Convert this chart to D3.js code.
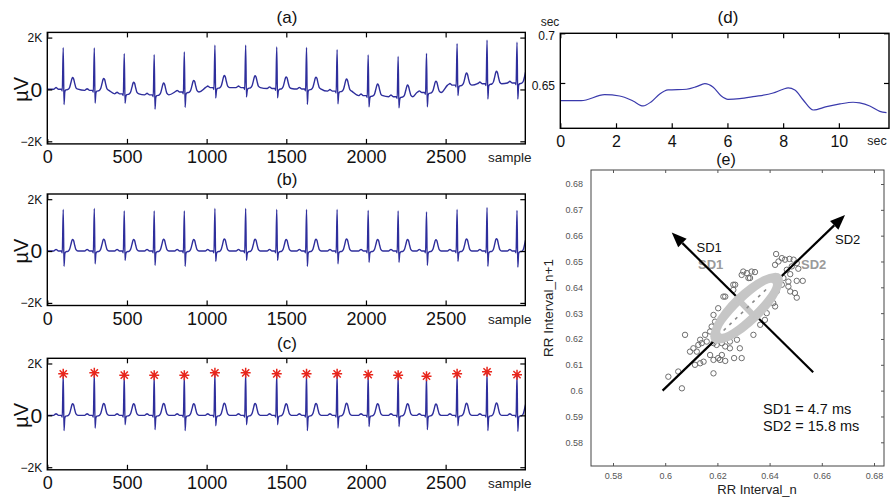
<!DOCTYPE html>
<html><head><meta charset="utf-8">
<script src="https://cdn.jsdelivr.net/npm/d3@7"></script>
<style>
body{margin:0;background:#fff}
svg{display:block}
text{font-family:"Liberation Sans",Arial,Helvetica,sans-serif}
</style>
</head><body>
<svg id="c" width="891" height="498"></svg>
<script>
// ---------------- DATA ----------------
// ECG (panels a-c): R-peak sample positions and per-beat amplitudes (µV)
const rPeakSamples = [100, 295, 483, 671, 860, 1052, 1245, 1440, 1627, 1819, 2014, 2202, 2380, 2572, 2760, 2948];
const rAmplitude   = [1600, 1640, 1550, 1550, 1550, 1640, 1640, 1600, 1600, 1600, 1570, 1550, 1510, 1600, 1680, 1570];
const sDepth       = [590, 490, 360, 550, 590, 400, 360, 360, 590, 490, 430, 430, 550, 400, 590, 620];
const tAmplitude   = [450, 460, 450, 460, 450, 470, 460, 450, 460, 470, 450, 450, 440, 470, 480, 480];
// baseline wander of the raw signal (panel a), one value per beat (µV)
const baselineRaw  = [10, -35, -170, -210, -100, 70, 70, 35, 15, -65, -240, -280, -120, 165, 220, 250];
// single-beat shape: [offset from R (samples), kind, value]
// kind 'uV' = absolute µV, 'R'/'S'/'T' = fraction of that beat's wave amplitude
const waveTemplate = [
  [-60,'uV',0],[-52,'uV',35],[-45,'uV',65],[-38,'uV',35],[-30,'uV',0],[-12,'uV',0],[-6,'uV',-70],
  [0,'R',1],[5,'S',1],[10,'uV',-100],[16,'uV',-30],[30,'uV',-10],
  [40,'T',0.15],[48,'T',0.55],[55,'T',0.92],[60,'T',1],[65,'T',0.9],[72,'T',0.5],[80,'T',0.12],[92,'uV',0]
];
const ecgXTicks = [0, 500, 1000, 1500, 2000, 2500];
const ecgYTicks = [-2000, 0, 2000];
const ecgYLabels = ['\u22122K', '0', '2K'];
const panelTitles = ['(a)', '(b)', '(c)'];

// Panel d: HRV / RR tachogram (sec vs sec)
const hrvTime = [0, 0.75, 1.59, 2.13, 2.61, 2.97, 3.27, 3.57, 3.87, 4.53, 4.89, 5.19, 5.49, 5.78, 6.02, 6.44, 6.92, 7.64, 8.0, 8.18, 8.42, 8.72, 9.08, 9.56, 10.04, 10.51, 10.75, 11.11, 11.47, 11.71];
const hrvRR   = [0.6322, 0.6322, 0.6382, 0.6369, 0.6319, 0.6269, 0.6312, 0.6389, 0.6430, 0.6437, 0.6463, 0.6493, 0.6457, 0.6369, 0.6336, 0.6342, 0.6362, 0.6399, 0.6437, 0.6450, 0.6430, 0.6329, 0.6228, 0.6262, 0.6289, 0.6306, 0.6299, 0.6269, 0.6215, 0.6201];
const hrvXTicks = [0, 2, 4, 6, 8, 10];
const hrvYTicks = [0.65, 0.7];

// Panel e: Poincaré plot
const rrN  = [0.6425,0.6447,0.6434,0.6421,0.6459,0.6476,0.6492,0.6504,0.6485,0.6466,0.6510,0.6479,0.6453,0.6472,0.6504,0.6527,0.6447,0.6472,0.6479,0.6497,0.6504,0.6427,0.6414,0.6421,0.6389,0.6382,0.6364,0.6338,0.6313,0.6344,0.6293,0.6325,0.6268,0.6261,0.6223,0.6203,0.6185,0.6191,0.6178,0.6172,0.6153,0.6134,0.6127,0.6108,0.6095,0.6121,0.6140,0.6159,0.6185,0.6197,0.6217,0.6230,0.6248,0.6275,0.6286,0.6217,0.6172,0.6185,0.6203,0.6230,0.6147,0.6114,0.6185,0.6076,0.6050,0.6012,0.6064,0.6248,0.6275,0.6306,0.6331,0.6351,0.6325,0.6299,0.6281,0.6134,0.6210,0.6293,0.6264,0.6248,0.6230,0.6261,0.6299,0.6331,0.6319];
const rrN1 = [0.6529,0.6513,0.6500,0.6487,0.6507,0.6510,0.6507,0.6494,0.6481,0.6468,0.6472,0.6451,0.6436,0.6422,0.6425,0.6425,0.6410,0.6403,0.6384,0.6378,0.6360,0.6384,0.6339,0.6326,0.6300,0.6274,0.6255,0.6216,0.6455,0.6459,0.6448,0.6436,0.6410,0.6390,0.6364,0.6319,0.6293,0.6267,0.6248,0.6229,0.6216,0.6197,0.6177,0.6164,0.6151,0.6151,0.6184,0.6190,0.6184,0.6177,0.6184,0.6171,0.6190,0.6197,0.6164,0.6138,0.6138,0.6119,0.6126,0.6115,0.6112,0.6100,0.6067,0.6216,0.6074,0.6054,0.6009,0.6267,0.6255,0.6261,0.6274,0.6306,0.6326,0.6306,0.6287,0.6106,0.6119,0.6126,0.6126,0.6164,0.6364,0.6410,0.6461,0.6461,0.6436];
const poincareXTicks = [0.58, 0.60, 0.62, 0.64, 0.66, 0.68];
const poincareXLabels = ['0.58','0.6','0.62','0.64','0.66','0.68'];
const poincareYTicks = [0.58,0.59,0.60,0.61,0.62,0.63,0.64,0.65,0.66,0.67,0.68];
const poincareYLabels = ['0.58','0.59','0.6','0.61','0.62','0.63','0.64','0.65','0.66','0.67','0.68'];
// SD axes: [x0, y0, x1(head), y1(head)]
const sd1Axis = [0.6567, 0.6071, 0.6025, 0.6612];
const sd2Axis = [0.5990, 0.6000, 0.6689, 0.6680];
const ellipseCenter = [0.6312, 0.6319];
const sdValues = ['SD1 = 4.7 ms', 'SD2 = 15.8 ms'];

// ---------------- DRAW ----------------
const svg = d3.select('#c');
const defs = svg.append('defs');
const ECG_COLOR = '#2e2e9c';

const ecgX0 = 47.3, ecgX1 = 525.3, ecgH = 111.5;
const panelTops = [32.4, 194, 358.3];
const x = d3.scaleLinear().domain([0, 3000]).range([ecgX0, ecgX1]);

function buildTrace(withBaseline) {
  const pts = [[0, withBaseline ? baselineRaw[0] : 0]];
  rPeakSamples.forEach((r, i) => {
    const b = withBaseline ? baselineRaw[i] : 0;
    waveTemplate.forEach(([off, kind, v]) => {
      let val = v;
      if (kind === 'R') val = v * rAmplitude[i];
      else if (kind === 'S') val = -v * sDepth[i];
      else if (kind === 'T') val = v * tAmplitude[i];
      pts.push([r + off, b + val]);
    });
  });
  return pts;
}

panelTops.forEach((top, pi) => {
  const y = d3.scaleLinear().domain([-2100, 2200]).range([top + ecgH, top]);
  const g = svg.append('g');
  const clipId = 'clip' + pi;
  defs.append('clipPath').attr('id', clipId).append('rect')
    .attr('x', ecgX0).attr('y', top).attr('width', ecgX1 - ecgX0).attr('height', ecgH);

  const trace = buildTrace(pi === 0);
  const line = d3.line().x(d => x(d[0])).y(d => y(d[1])).curve(d3.curveMonotoneX);
  g.append('path').attr('d', line(trace)).attr('fill', 'none')
    .attr('stroke', ECG_COLOR).attr('stroke-width', 1.4).attr('stroke-linejoin', 'round')
    .attr('clip-path', `url(#${clipId})`);

  if (pi === 2) {
    const r = 5, a = r * 0.72;
    const star = `M0,${-r}L0,${r}M${-r},0L${r},0M${-a},${-a}L${a},${a}M${-a},${a}L${a},${-a}`;
    g.selectAll('path.star').data(rPeakSamples).join('path').attr('class', 'star')
      .attr('d', star)
      .attr('transform', (d, i) => `translate(${x(d)},${y(rAmplitude[i])})`)
      .attr('stroke', '#e8261c').attr('stroke-width', 1.5).attr('fill', 'none');
  }

  // frame
  g.append('rect').attr('x', ecgX0).attr('y', top).attr('width', ecgX1 - ecgX0).attr('height', ecgH)
    .attr('fill', 'none').attr('stroke', '#000').attr('stroke-width', 1.4);

  // axes (inward ticks)
  const ax = g.append('g').attr('transform', `translate(0,${top + ecgH})`)
    .call(d3.axisBottom(x).tickValues(ecgXTicks).tickSize(-5).tickPadding(6.5).tickFormat(d3.format('d')));
  ax.select('.domain').remove();
  ax.selectAll('line').attr('stroke', '#000').attr('stroke-width', 1.2);
  ax.selectAll('text').attr('font-size', 18).attr('fill', '#111')
    .style('font-family', '"Liberation Sans",Arial,sans-serif');

  const axT = g.append('g').attr('transform', `translate(0,${top})`)
    .call(d3.axisTop(x).tickValues(ecgXTicks).tickSize(-5).tickFormat(''));
  axT.select('.domain').remove();
  axT.selectAll('line').attr('stroke', '#000').attr('stroke-width', 1.2);

  const ayL = g.append('g').attr('transform', `translate(${ecgX0},0)`)
    .call(d3.axisLeft(y).tickValues(ecgYTicks).tickSize(-5).tickPadding(5)
      .tickFormat((d, i) => ecgYLabels[i]));
  ayL.select('.domain').remove();
  ayL.selectAll('line').attr('stroke', '#000').attr('stroke-width', 1.2);
  ayL.selectAll('text').attr('fill', '#111')
    .attr('font-size', d => d === 0 ? 21 : 12)
    .style('font-family', '"Liberation Sans",Arial,sans-serif');

  const ayR = g.append('g').attr('transform', `translate(${ecgX1},0)`)
    .call(d3.axisRight(y).tickValues(ecgYTicks).tickSize(-5).tickFormat(''));
  ayR.select('.domain').remove();
  ayR.selectAll('line').attr('stroke', '#000').attr('stroke-width', 1.2);

  // y-axis title
  g.append('text').attr('transform', `translate(28,${top + 57}) rotate(-90)`)
    .attr('text-anchor', 'middle').attr('font-size', 20).attr('fill', '#111').text('\u00B5V');
  // x unit
  g.append('text').attr('x', 488).attr('y', top + ecgH + 18.5)
    .attr('font-size', 13.5).attr('fill', '#222').text('sample');
  // title
  g.append('text').attr('x', 287).attr('y', top - 9.5).attr('text-anchor', 'middle')
    .attr('font-size', 17).attr('fill', '#111').text(panelTitles[pi]);
});

// ---- Panel d ----
{
  const xd = d3.scaleLinear().domain([0, 11.8]).range([560.3, 889]);
  const yd = d3.scaleLinear().domain([0.6044, 0.7]).range([128.3, 33.3]);
  const g = svg.append('g');
  g.append('path').datum(hrvTime.map((t, i) => [t, hrvRR[i]]))
    .attr('d', d3.line().x(d => xd(d[0])).y(d => yd(d[1])).curve(d3.curveMonotoneX))
    .attr('fill', 'none').attr('stroke', '#3a3aac').attr('stroke-width', 1.2);
  g.append('rect').attr('x', 560.3).attr('y', 33.3).attr('width', 889 - 560.3).attr('height', 128.3 - 33.3)
    .attr('fill', 'none').attr('stroke', '#000').attr('stroke-width', 1.4);

  const ax = g.append('g').attr('transform', 'translate(0,128.3)')
    .call(d3.axisBottom(xd).tickValues(hrvXTicks).tickSize(-5).tickPadding(7).tickFormat(d3.format('d')));
  ax.select('.domain').remove();
  ax.selectAll('line').attr('stroke', '#000').attr('stroke-width', 1.2);
  ax.selectAll('text').attr('font-size', 16).attr('fill', '#111')
    .style('font-family', '"Liberation Sans",Arial,sans-serif');
  const axT = g.append('g').attr('transform', 'translate(0,33.3)')
    .call(d3.axisTop(xd).tickValues(hrvXTicks).tickSize(-5).tickFormat(''));
  axT.select('.domain').remove();
  axT.selectAll('line').attr('stroke', '#000').attr('stroke-width', 1.2);

  const ayL = g.append('g').attr('transform', 'translate(560.3,0)')
    .call(d3.axisLeft(yd).tickValues(hrvYTicks).tickSize(-5).tickPadding(5.3).tickFormat(d => String(d)));
  ayL.select('.domain').remove();
  ayL.selectAll('line').attr('stroke', '#000').attr('stroke-width', 1.2);
  ayL.selectAll('text').attr('font-size', 12).attr('fill', '#111').attr('dy', '0.55em')
    .style('font-family', '"Liberation Sans",Arial,sans-serif');
  const ayR = g.append('g').attr('transform', 'translate(889,0)')
    .call(d3.axisRight(yd).tickValues(hrvYTicks).tickSize(-5).tickFormat(''));
  ayR.select('.domain').remove();
  ayR.selectAll('line').attr('stroke', '#000').attr('stroke-width', 1.2);

  g.append('text').attr('x', 550).attr('y', 26).attr('text-anchor', 'middle')
    .attr('font-size', 12).attr('fill', '#222').text('sec');
  g.append('text').attr('x', 877).attr('y', 145).attr('text-anchor', 'middle')
    .attr('font-size', 12.5).attr('fill', '#222').text('sec');
  g.append('text').attr('x', 728).attr('y', 23).attr('text-anchor', 'middle')
    .attr('font-size', 17).attr('fill', '#111').text('(d)');
}

// ---- Panel e ----
{
  const L = 591, R = 884, T = 170, B = 466;
  const xe = d3.scaleLinear().domain([0.58, 0.68]).range([613, 874]);
  const ye = d3.scaleLinear().domain([0.58, 0.68]).range([442.3, 184]);
  const g = svg.append('g');

  g.append('text').attr('x', 726).attr('y', 165).attr('text-anchor', 'middle')
    .attr('font-size', 16).attr('fill', '#111').text('(e)');

  // gray duplicate labels (underneath)
  g.append('text').attr('x', 698).attr('y', 268.5).attr('font-size', 13).attr('font-weight', 'bold')
    .attr('fill', '#9a9a9a').text('SD1');
  g.append('text').attr('x', 801).attr('y', 268.5).attr('font-size', 13).attr('font-weight', 'bold')
    .attr('fill', '#9a9a9a').text('SD2');

  // points
  g.selectAll('circle.pt').data(rrN).join('circle').attr('class', 'pt')
    .attr('cx', d => xe(d)).attr('cy', (d, i) => ye(rrN1[i])).attr('r', 2.7)
    .attr('fill', 'none').attr('stroke', '#6e6e6e').attr('stroke-width', 1);

  // arrows
  function arrow(a) {
    const x0 = xe(a[0]), y0 = ye(a[1]), x1 = xe(a[2]), y1 = ye(a[3]);
    const ang = Math.atan2(y1 - y0, x1 - x0);
    const hl = 15, hw = 6;
    const bx = x1 - hl * Math.cos(ang), by = y1 - hl * Math.sin(ang);
    g.append('line').attr('x1', x0).attr('y1', y0).attr('x2', bx).attr('y2', by)
      .attr('stroke', '#000').attr('stroke-width', 2.2);
    const px = -Math.sin(ang) * hw, py = Math.cos(ang) * hw;
    g.append('path').attr('d', `M${x1},${y1}L${bx + px},${by + py}L${bx - px},${by - py}Z`)
      .attr('fill', '#000');
  }
  arrow(sd1Axis);
  arrow(sd2Axis);

  // ellipse
  const cx = xe(ellipseCenter[0]), cy = ye(ellipseCenter[1]);
  const eg = g.append('g').attr('transform', `translate(${cx},${cy}) rotate(-44)`);
  eg.append('ellipse').attr('rx', 48).attr('ry', 16.5).attr('fill', '#c6c6c6');
  eg.append('ellipse').attr('rx', 36).attr('ry', 7).attr('fill', '#fff');
  eg.append('line').attr('x1', 0).attr('y1', -11).attr('x2', 0).attr('y2', 11)
    .attr('stroke', '#c6c6c6').attr('stroke-width', 6);
  eg.append('line').attr('x1', -32).attr('y1', 0).attr('x2', 32).attr('y2', 0)
    .attr('stroke', '#8a8a8a').attr('stroke-width', 1.6).attr('stroke-dasharray', '3,5');

  // labels
  g.append('text').attr('x', 696.5).attr('y', 251.5).attr('font-size', 13).attr('fill', '#111').text('SD1');
  g.append('text').attr('x', 835).attr('y', 243.5).attr('font-size', 13).attr('fill', '#111').text('SD2');
  g.append('text').attr('x', 763).attr('y', 414).attr('font-size', 14.5).attr('fill', '#111').text(sdValues[0]);
  g.append('text').attr('x', 763).attr('y', 431).attr('font-size', 14.5).attr('fill', '#111').text(sdValues[1]);

  // frame
  g.append('rect').attr('x', L).attr('y', T).attr('width', R - L).attr('height', B - T)
    .attr('fill', 'none').attr('stroke', '#444').attr('stroke-width', 1);

  const tk = (sel) => { sel.select('.domain').remove(); sel.selectAll('line').attr('stroke', '#555'); };
  const ax = g.append('g').attr('transform', `translate(0,${B})`)
    .call(d3.axisBottom(xe).tickValues(poincareXTicks).tickSize(-3).tickPadding(7)
      .tickFormat((d, i) => poincareXLabels[i]));
  tk(ax);
  ax.selectAll('text').attr('font-size', 9).attr('fill', '#555')
    .style('font-family', '"Liberation Sans",Arial,sans-serif');
  tk(g.append('g').attr('transform', `translate(0,${T})`)
    .call(d3.axisTop(xe).tickValues(poincareXTicks).tickSize(-3).tickFormat('')));
  const ay = g.append('g').attr('transform', `translate(${L},0)`)
    .call(d3.axisLeft(ye).tickValues(poincareYTicks).tickSize(-3).tickPadding(8)
      .tickFormat((d, i) => poincareYLabels[i]));
  tk(ay);
  ay.selectAll('line').attr('stroke', 'none');
  ay.selectAll('text').attr('font-size', 9).attr('fill', '#555')
    .style('font-family', '"Liberation Sans",Arial,sans-serif');
  tk(g.append('g').attr('transform', `translate(${R},0)`)
    .call(d3.axisRight(ye).tickValues(poincareYTicks).tickSize(-3).tickFormat('')));

  g.append('text').attr('x', 757).attr('y', 494).attr('text-anchor', 'middle')
    .attr('font-size', 13).attr('fill', '#222').text('RR Interval_n');
  g.append('text').attr('transform', 'translate(553,308) rotate(-90)').attr('text-anchor', 'middle')
    .attr('font-size', 13.5).attr('fill', '#222').text('RR Interval_n+1');
}
</script>
</body></html>
